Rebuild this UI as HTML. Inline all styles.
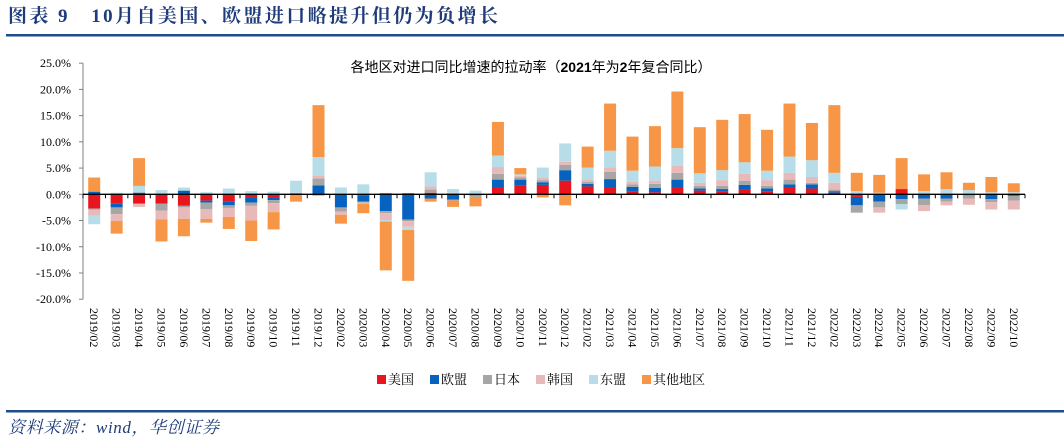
<!DOCTYPE html>
<html><head><meta charset="utf-8"><style>
body{margin:0;background:#fff;width:1064px;height:441px;overflow:hidden;font-family:"Liberation Serif","Noto Serif CJK SC",serif;}
</style></head><body>
<svg width="1064" height="441" xmlns="http://www.w3.org/2000/svg">
<text x="8" y="22" font-size="19" font-weight="bold" letter-spacing="2.4" fill="#1f3c7a" font-family="Liberation Serif,Noto Serif CJK SC,serif">图表 9　10月自美国、欧盟进口略提升但仍为负增长</text>
<rect x="6" y="34" width="1058" height="2.5" fill="#1f4e8c"/>
<text x="531" y="72" font-size="14" text-anchor="middle" fill="#000" font-family="Liberation Sans,Noto Sans CJK SC,sans-serif">各地区对进口同比增速的拉动率（<tspan font-weight="bold">2021</tspan>年为<tspan font-weight="bold">2</tspan>年复合同比）</text>
<g id="plot"></g>
<g id="legend" font-family="Liberation Serif,Noto Serif CJK SC,serif" font-size="13"></g>
<rect x="6" y="410" width="1058" height="2.5" fill="#1f4e8c"/>
<text x="8" y="433" font-size="17" font-style="italic" letter-spacing="0.6" fill="#1f3c7a">资料来源：wind，华创证券</text>
</svg>
<script>
const categories=["2019/02","2019/03","2019/04","2019/05","2019/06","2019/07","2019/08","2019/09","2019/10","2019/11","2019/12","2020/02","2020/03","2020/04","2020/05","2020/06","2020/07","2020/08","2020/09","2020/10","2020/11","2020/12","2021/02","2021/03","2021/04","2021/05","2021/06","2021/07","2021/08","2021/09","2021/10","2021/11","2021/12","2022/02","2022/03","2022/04","2022/05","2022/06","2022/07","2022/08","2022/09","2022/10"];
const seriesNames=["美国","欧盟","日本","韩国","东盟","其他地区"];
const usa=[-2.7,-1.8,-1.8,-1.8,-2.2,-1.2,-1.4,-0.7,-0.6,0,-0.2,-0.1,-0.3,0.2,0.2,0.3,0,0,1.3,1.7,1.8,2.6,1.5,1.3,0.6,0.4,1.3,0.7,0.6,1.0,0.6,1.3,1.1,0.3,-0.5,0,1.0,0,0,0,0,0];
const eu=[0.5,-0.7,0.3,0,0.7,-0.4,-0.7,-0.9,-0.5,0.2,1.7,-2.4,-1.1,-3.2,-4.8,-0.8,-1.0,-0.2,1.5,1.1,0.5,2.0,0.5,1.6,0.8,0.8,1.5,0.4,0.4,0.8,0.5,0.6,0.8,0.3,-1.6,-1.4,-0.9,-0.8,-0.8,-0.2,-0.9,-0.3];
const japan=[-0.2,-1.3,0.1,-1.3,-0.3,-1.2,-0.5,-0.6,-0.6,0,1.3,-0.8,-0.2,-0.4,-0.3,0.6,-0.2,-0.3,1.1,0.4,0.4,1.0,0.4,1.4,0.5,0.8,1.3,0.5,0.6,0.8,0.5,0.9,0.3,0.3,-1.4,-1.1,-1.0,-1.3,-0.6,-0.6,-0.6,-0.9];
const korea=[-1.2,-1.3,-0.6,-1.7,-2.2,-1.9,-1.7,-2.8,-1.7,0.1,0.5,-0.6,-0.2,-1.3,-1.1,0.6,0.3,0.1,1.3,0.3,0.4,0.6,0.4,0.8,0.5,0.6,1.3,0.6,1.1,1.3,1.1,1.3,1.1,1.3,0,-1.0,0,-1.1,-0.7,-1.2,-1.4,-1.7];
const asean=[-1.6,0.3,1.2,0.8,0.6,0.4,1.1,0.6,0.5,2.3,3.6,1.3,1.9,-0.3,-0.6,2.7,0.7,0.6,2.2,0.3,2.0,3.5,2.3,3.2,2.1,2.7,3.4,1.8,1.9,2.2,1.8,3.1,3.2,1.9,0.6,0.3,-1.0,0.6,1.0,0.8,0.4,0.4];
const other=[2.7,-2.4,5.3,-4.2,-3.3,-0.7,-2.3,-3.9,-3.3,-1.4,9.9,-1.7,-1.8,-9.3,-9.7,-0.6,-1.2,-1.8,6.4,1.2,-0.6,-2.1,4.0,9.0,6.5,7.7,10.8,8.8,9.6,9.2,7.8,10.1,7.1,12.9,3.5,3.4,5.9,3.2,3.2,1.4,2.9,1.7];
const yTicks=[25,20,15,10,5,0,-5,-10,-15,-20];
const colors=["#e8141e","#0562be","#a6a6a6","#e8b9b9","#b7dde8","#f79646"];
const series=[usa,eu,japan,korea,asean,other];
const NS="http://www.w3.org/2000/svg";
const plot=document.getElementById('plot');
const x0=83,x1=1025,y0v=194.3,pxPer=5.245;
const step=(x1-x0)/categories.length;
function y(v){return y0v-v*pxPer;}
function xc(i){return x0+step*(i+0.5);}
function mk(tag,attrs){const e=document.createElementNS(NS,tag);for(const k in attrs)e.setAttribute(k,attrs[k]);return e;}
const ax=mk('line',{x1:x0,y1:y(25),x2:x0,y2:y(-20),stroke:'#808080','stroke-width':1});


plot.appendChild(ax);
yTicks.forEach(t=>{
 const tk=mk('line',{x1:x0-4,x2:x0,y1:y(t),y2:y(t),stroke:'#808080'});
 
 
 plot.appendChild(tk);
 const tx=mk('text',{x:x0-12,y:y(t)+4,'text-anchor':'end','font-size':12,fill:'#000'});
 
 
 tx.textContent=t.toFixed(1)+'%';
 plot.appendChild(tx);
});
const bw=12;
categories.forEach((c,i)=>{
 let pos=0,neg=0;
 series.forEach((s,k)=>{
  const v=s[i];if(!v)return;
  let top,bot;
  if(v>0){bot=pos;top=pos+v;pos=top;}else{top=neg;bot=neg+v;neg=bot;}
  const r=mk('rect',{x:xc(i)-bw/2,y:y(top),width:bw,height:Math.max(0.5,y(bot)-y(top)),fill:colors[k]});
  
  
  plot.appendChild(r);
 });
 const lb=mk('text',{transform:`translate(${xc(i)-4},308) rotate(90)`,'font-size':12,fill:'#000'});
 
 
 lb.textContent=c;
 plot.appendChild(lb);
});
for(let i=0;i<=categories.length;i++){
 const tk=mk('line',{x1:x0+step*i,x2:x0+step*i,y1:y0v,y2:y0v+4,stroke:'#000'});
 
 
 plot.appendChild(tk);
}
const xa=mk('line',{x1:x0,x2:x1,y1:y0v,y2:y0v,stroke:'#000','stroke-width':1.3});


plot.appendChild(xa);
const lg=document.getElementById('legend');
let lx=377;
seriesNames.forEach((n,k)=>{
 const g=mk('g',{});
 
 
 g.appendChild(mk('rect',{x:lx,y:375,width:9,height:9,fill:colors[k]}));
 const t=mk('text',{x:lx+11,y:384,fill:'#000'});
 t.textContent=n;g.appendChild(t);
 lg.appendChild(g);
 lx+=11+n.length*13+16;
});
</script>
</body></html>
